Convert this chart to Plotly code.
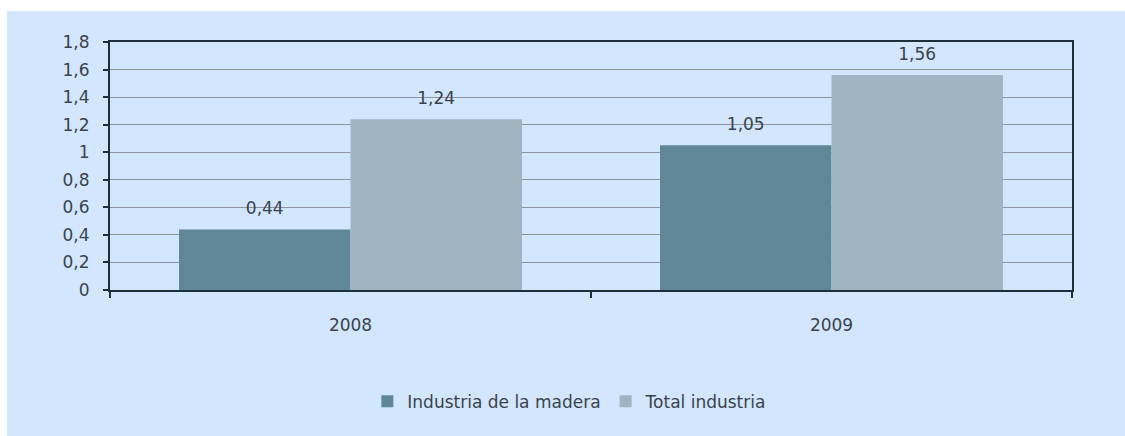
import plotly.graph_objects as go

years = ["2008", "2009"]
madera = [0.44, 1.05]
total = [1.24, 1.56]
series_names = ["Industria de la madera", "Total industria"]
series_colors = ["#5f8796", "#9fb5c2"]
y_ticks = [0, 0.2, 0.4, 0.6, 0.8, 1, 1.2, 1.4, 1.6, 1.8]

FONT = "DejaVu Sans"
TEXT_COLOR = "#3a434c"
AXIS_COLOR = "#1f2f3a"
BG = "#d2e6fd"
GAP = 0.287

fig = go.Figure()
for i, (name, vals, color) in enumerate(zip(series_names, [madera, total], series_colors)):
    fig.add_trace(go.Bar(
        x=years, y=vals, name=name, offsetgroup=str(i),
        marker=dict(color=color, line=dict(width=0)),
    ))
# value labels, grouped the same way as the bars; an invisible marker sets the lift
for i, vals in enumerate([madera, total]):
    fig.add_trace(go.Scatter(
        x=years, y=vals, mode="markers+text", offsetgroup=str(i),
        text=[f"{v:.2f}".replace(".", ",") for v in vals],
        textposition="top center", cliponaxis=False,
        marker=dict(size=16, opacity=0), showlegend=False, hoverinfo="skip",
        textfont=dict(family=FONT, size=17, color=TEXT_COLOR),
    ))

# light blue panel behind the whole chart
fig.add_shape(type="rect", xref="paper", yref="paper",
              x0=-103 / 962, x1=1.06, y0=-0.6, y1=1 + 31 / 248,
              fillcolor=BG, line=dict(width=0), layer="below")

fig.update_layout(
    width=1125, height=436,
    margin=dict(l=110, r=53, t=42, b=146),
    paper_bgcolor="white", plot_bgcolor=BG,
    separators=",.",
    barmode="group", bargap=GAP, bargroupgap=0,
    scattermode="group", scattergap=GAP,
    font=dict(family=FONT, size=17, color=TEXT_COLOR),
    showlegend=True,
    legend=dict(orientation="h", x=0.478, xanchor="center", y=-0.45, yanchor="middle",
                font=dict(family=FONT, size=17, color=TEXT_COLOR),
                bgcolor="rgba(0,0,0,0)", traceorder="normal"),
    xaxis=dict(
        type="category", showline=True, linecolor=AXIS_COLOR, linewidth=2, mirror=True,
        ticks="outside", tickson="boundaries", ticklen=6, tickwidth=2, tickcolor=AXIS_COLOR,
        showgrid=False, ticklabelstandoff=19,
        tickfont=dict(family=FONT, size=17, color=TEXT_COLOR),
    ),
    yaxis=dict(
        range=[0, 1.8], tickvals=y_ticks, showline=True, linecolor=AXIS_COLOR, linewidth=2,
        mirror=True, ticks="outside", ticklen=5, tickwidth=2, tickcolor=AXIS_COLOR,
        showgrid=True, gridcolor="#909498", gridwidth=1, zeroline=False,
        ticklabelstandoff=10,
        tickfont=dict(family=FONT, size=17, color=TEXT_COLOR),
    ),
)

fig.write_html("out.html")
